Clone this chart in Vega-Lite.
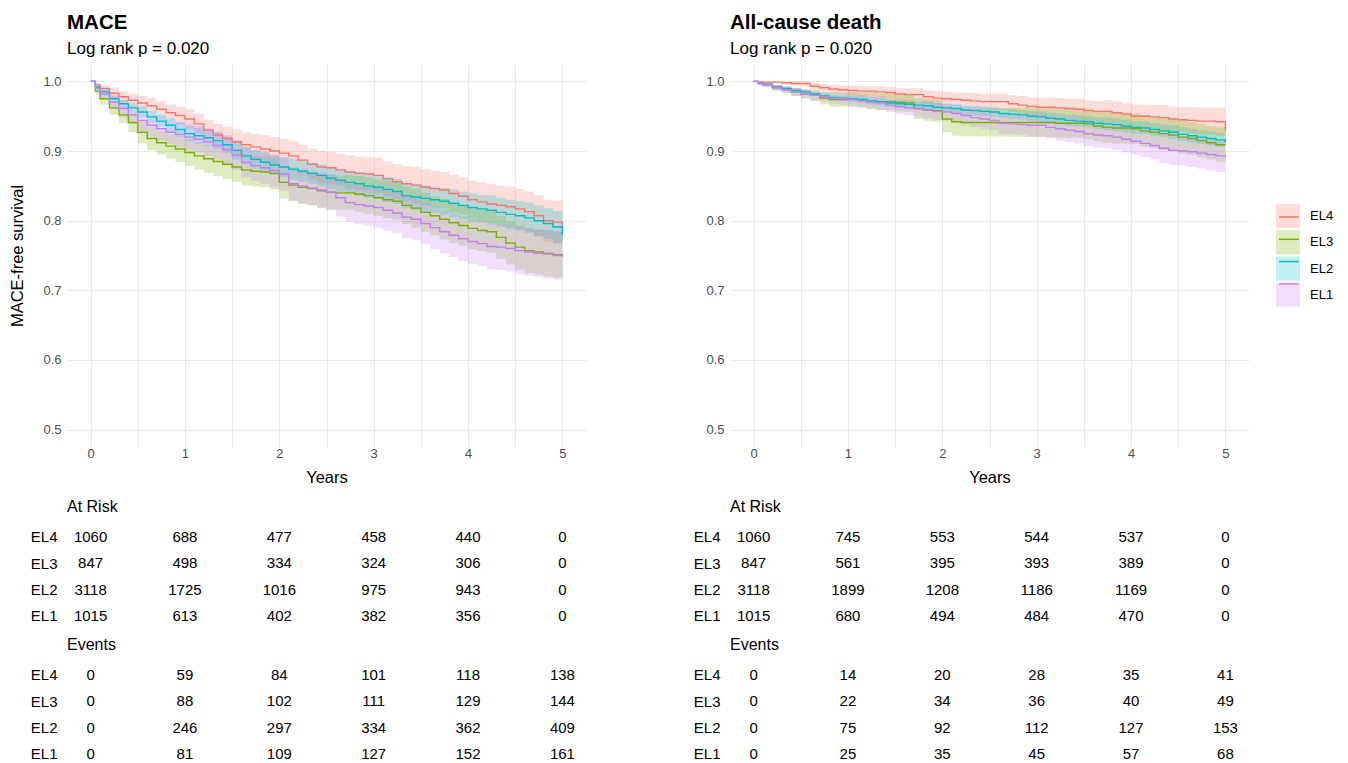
{
  "$schema": "https://vega.github.io/schema/vega-lite/v6.json",
  "padding": {"left": 9, "top": 12, "right": 0, "bottom": 0},
  "background": "white",
  "config": {
    "font": "Liberation Sans",
    "view": {"stroke": null},
    "axis": {"labelFont": "Liberation Sans", "titleFont": "Liberation Sans"},
    "title": {"font": "Liberation Sans", "subtitleFont": "Liberation Sans"}
  },
  "datasets": {
    "km": [
      {"p": "MACE", "g": "EL4",
       "t": [0,0.05,0.1,0.2,0.3,0.4,0.5,0.6,0.7,0.8,0.9,1,1.1,1.2,1.3,1.4,1.5,1.6,1.7,1.8,1.9,2,2.1,2.2,2.3,2.4,2.5,2.6,2.7,2.8,2.9,3,3.1,3.2,3.3,3.4,3.5,3.6,3.7,3.8,3.9,4,4.1,4.2,4.3,4.4,4.5,4.6,4.7,4.8,4.9,5],
       "s": [1,0.995,0.990,0.983,0.978,0.973,0.969,0.965,0.960,0.955,0.951,0.946,0.939,0.930,0.923,0.918,0.913,0.909,0.906,0.903,0.900,0.897,0.893,0.887,0.881,0.877,0.876,0.873,0.870,0.868,0.867,0.865,0.860,0.856,0.853,0.851,0.848,0.846,0.844,0.839,0.835,0.830,0.827,0.824,0.822,0.820,0.817,0.813,0.807,0.800,0.798,0.783],
       "lo": [1,0.992,0.985,0.976,0.970,0.964,0.959,0.954,0.948,0.943,0.938,0.932,0.924,0.915,0.907,0.901,0.895,0.891,0.887,0.883,0.880,0.876,0.872,0.865,0.859,0.854,0.853,0.850,0.846,0.844,0.843,0.840,0.835,0.831,0.828,0.825,0.822,0.820,0.818,0.812,0.808,0.803,0.799,0.796,0.794,0.791,0.788,0.784,0.777,0.770,0.767,0.752],
       "hi": [1,0.998,0.995,0.990,0.986,0.982,0.979,0.976,0.972,0.967,0.964,0.960,0.954,0.945,0.939,0.935,0.931,0.927,0.925,0.923,0.920,0.918,0.914,0.909,0.903,0.900,0.899,0.896,0.894,0.892,0.891,0.890,0.885,0.881,0.878,0.877,0.874,0.872,0.870,0.866,0.862,0.857,0.855,0.852,0.850,0.849,0.846,0.842,0.837,0.830,0.829,0.814]},
      {"p": "MACE", "g": "EL3",
       "t": [0,0.05,0.1,0.2,0.3,0.4,0.5,0.6,0.7,0.8,0.9,1,1.1,1.2,1.3,1.4,1.5,1.6,1.7,1.8,1.9,2,2.1,2.2,2.3,2.4,2.5,2.6,2.7,2.8,2.9,3,3.1,3.2,3.3,3.4,3.5,3.6,3.7,3.8,3.9,4,4.1,4.2,4.3,4.4,4.5,4.6,4.7,4.8,4.9,5],
       "s": [1,0.986,0.975,0.962,0.952,0.941,0.927,0.918,0.912,0.907,0.903,0.898,0.893,0.889,0.885,0.881,0.877,0.873,0.871,0.870,0.868,0.855,0.851,0.848,0.846,0.843,0.841,0.840,0.840,0.838,0.836,0.833,0.830,0.828,0.822,0.818,0.812,0.807,0.802,0.797,0.793,0.789,0.786,0.784,0.776,0.768,0.762,0.757,0.755,0.753,0.751,0.749],
       "lo": [1,0.980,0.967,0.952,0.940,0.927,0.911,0.901,0.895,0.889,0.884,0.879,0.873,0.869,0.864,0.860,0.856,0.851,0.849,0.848,0.845,0.832,0.828,0.824,0.822,0.819,0.816,0.815,0.815,0.812,0.810,0.807,0.803,0.801,0.795,0.790,0.784,0.779,0.773,0.768,0.764,0.759,0.756,0.754,0.745,0.737,0.730,0.725,0.723,0.720,0.718,0.716],
       "hi": [1,0.992,0.983,0.972,0.964,0.955,0.943,0.935,0.929,0.925,0.922,0.917,0.913,0.909,0.906,0.902,0.898,0.895,0.893,0.892,0.891,0.878,0.874,0.872,0.870,0.867,0.866,0.865,0.865,0.864,0.862,0.859,0.857,0.855,0.849,0.846,0.840,0.835,0.831,0.826,0.822,0.819,0.816,0.814,0.807,0.799,0.794,0.789,0.787,0.786,0.784,0.782]},
      {"p": "MACE", "g": "EL2",
       "t": [0,0.05,0.1,0.2,0.3,0.4,0.5,0.6,0.7,0.8,0.9,1,1.1,1.2,1.3,1.4,1.5,1.6,1.7,1.8,1.9,2,2.1,2.2,2.3,2.4,2.5,2.6,2.7,2.8,2.9,3,3.1,3.2,3.3,3.4,3.5,3.6,3.7,3.8,3.9,4,4.1,4.2,4.3,4.4,4.5,4.6,4.7,4.8,4.9,5],
       "s": [1,0.992,0.985,0.975,0.968,0.962,0.956,0.949,0.943,0.937,0.931,0.925,0.922,0.919,0.915,0.909,0.901,0.893,0.888,0.884,0.880,0.877,0.874,0.871,0.868,0.865,0.861,0.858,0.855,0.853,0.850,0.848,0.845,0.842,0.836,0.834,0.832,0.830,0.828,0.825,0.822,0.819,0.817,0.815,0.812,0.809,0.807,0.804,0.800,0.796,0.791,0.779],
       "lo": [1,0.990,0.981,0.970,0.962,0.955,0.948,0.940,0.934,0.927,0.921,0.914,0.911,0.907,0.903,0.897,0.888,0.880,0.875,0.870,0.866,0.863,0.859,0.856,0.853,0.849,0.845,0.842,0.839,0.836,0.833,0.831,0.827,0.824,0.818,0.815,0.813,0.811,0.809,0.805,0.802,0.799,0.797,0.794,0.791,0.788,0.786,0.782,0.778,0.774,0.768,0.756],
       "hi": [1,0.994,0.989,0.980,0.974,0.969,0.964,0.958,0.952,0.947,0.941,0.936,0.933,0.931,0.927,0.921,0.914,0.906,0.901,0.898,0.894,0.891,0.889,0.886,0.883,0.881,0.877,0.874,0.871,0.870,0.867,0.865,0.863,0.860,0.854,0.853,0.851,0.849,0.847,0.845,0.842,0.839,0.837,0.836,0.833,0.830,0.828,0.826,0.822,0.818,0.814,0.802]},
      {"p": "MACE", "g": "EL1",
       "t": [0,0.05,0.1,0.2,0.3,0.4,0.5,0.6,0.7,0.8,0.9,1,1.1,1.2,1.3,1.4,1.5,1.6,1.7,1.8,1.9,2,2.1,2.2,2.3,2.4,2.5,2.6,2.7,2.8,2.9,3,3.1,3.2,3.3,3.4,3.5,3.6,3.7,3.8,3.9,4,4.1,4.2,4.3,4.4,4.5,4.6,4.7,4.8,4.9,5],
       "s": [1,0.990,0.982,0.970,0.961,0.952,0.944,0.937,0.932,0.927,0.924,0.920,0.917,0.913,0.908,0.902,0.894,0.884,0.879,0.876,0.872,0.867,0.853,0.850,0.847,0.844,0.841,0.833,0.826,0.823,0.821,0.819,0.815,0.811,0.805,0.802,0.796,0.790,0.784,0.779,0.774,0.770,0.767,0.763,0.762,0.760,0.757,0.755,0.753,0.752,0.750,0.748],
       "lo": [1,0.986,0.975,0.960,0.949,0.939,0.929,0.921,0.915,0.910,0.906,0.901,0.898,0.893,0.888,0.881,0.873,0.862,0.857,0.853,0.849,0.843,0.829,0.825,0.822,0.818,0.815,0.806,0.799,0.795,0.793,0.790,0.786,0.782,0.775,0.772,0.766,0.759,0.753,0.748,0.742,0.738,0.735,0.730,0.729,0.727,0.723,0.721,0.719,0.717,0.715,0.713],
       "hi": [1,0.994,0.989,0.980,0.973,0.965,0.959,0.953,0.949,0.944,0.942,0.939,0.936,0.933,0.928,0.923,0.915,0.906,0.901,0.899,0.895,0.891,0.877,0.875,0.872,0.870,0.867,0.860,0.853,0.851,0.849,0.848,0.844,0.840,0.835,0.832,0.826,0.821,0.815,0.810,0.806,0.802,0.799,0.796,0.795,0.793,0.791,0.789,0.787,0.787,0.785,0.783]},
      {"p": "Death", "g": "EL4",
       "t": [0,0.05,0.1,0.2,0.3,0.4,0.5,0.6,0.7,0.8,0.9,1,1.1,1.2,1.3,1.4,1.5,1.6,1.7,1.8,1.9,2,2.1,2.2,2.3,2.4,2.5,2.6,2.7,2.8,2.9,3,3.1,3.2,3.3,3.4,3.5,3.6,3.7,3.8,3.9,4,4.1,4.2,4.3,4.4,4.5,4.6,4.7,4.8,4.9,5],
       "s": [1,0.999,0.999,0.999,0.998,0.997,0.997,0.993,0.991,0.989,0.988,0.987,0.986,0.986,0.985,0.984,0.982,0.981,0.981,0.978,0.976,0.975,0.974,0.973,0.972,0.971,0.971,0.971,0.968,0.966,0.964,0.963,0.963,0.962,0.961,0.960,0.958,0.957,0.957,0.955,0.953,0.950,0.950,0.949,0.948,0.946,0.945,0.944,0.943,0.943,0.942,0.928],
       "lo": [1,0.999,0.998,0.997,0.995,0.994,0.993,0.988,0.986,0.983,0.982,0.980,0.979,0.979,0.977,0.976,0.974,0.972,0.972,0.969,0.966,0.965,0.964,0.962,0.961,0.960,0.959,0.959,0.956,0.953,0.951,0.950,0.949,0.948,0.947,0.945,0.943,0.942,0.941,0.939,0.937,0.933,0.933,0.932,0.930,0.928,0.927,0.925,0.924,0.924,0.922,0.908],
       "hi": [1,1,1,1,1,1,1,0.998,0.996,0.995,0.994,0.994,0.993,0.993,0.993,0.992,0.990,0.990,0.990,0.987,0.986,0.985,0.984,0.984,0.983,0.982,0.983,0.983,0.980,0.979,0.977,0.976,0.977,0.976,0.975,0.975,0.973,0.972,0.973,0.971,0.969,0.967,0.967,0.966,0.966,0.964,0.963,0.963,0.962,0.962,0.962,0.948]},
      {"p": "Death", "g": "EL3",
       "t": [0,0.05,0.1,0.2,0.3,0.4,0.5,0.6,0.7,0.8,0.9,1,1.1,1.2,1.3,1.4,1.5,1.6,1.7,1.8,1.9,2,2.1,2.2,2.3,2.4,2.5,2.6,2.7,2.8,2.9,3,3.1,3.2,3.3,3.4,3.5,3.6,3.7,3.8,3.9,4,4.1,4.2,4.3,4.4,4.5,4.6,4.7,4.8,4.9,5],
       "s": [1,0.997,0.995,0.991,0.988,0.985,0.982,0.980,0.976,0.974,0.974,0.974,0.973,0.972,0.971,0.971,0.970,0.969,0.961,0.959,0.958,0.946,0.942,0.941,0.941,0.941,0.941,0.941,0.941,0.941,0.941,0.941,0.941,0.940,0.940,0.940,0.939,0.936,0.934,0.933,0.933,0.932,0.929,0.927,0.925,0.923,0.920,0.918,0.915,0.912,0.909,0.909],
       "lo": [1,0.995,0.992,0.987,0.983,0.979,0.975,0.972,0.967,0.964,0.964,0.963,0.962,0.960,0.959,0.959,0.957,0.956,0.946,0.943,0.942,0.927,0.922,0.921,0.921,0.921,0.921,0.921,0.920,0.920,0.920,0.920,0.920,0.919,0.919,0.919,0.917,0.914,0.912,0.911,0.911,0.910,0.906,0.904,0.902,0.900,0.896,0.894,0.891,0.888,0.884,0.884],
       "hi": [1,0.999,0.998,0.995,0.993,0.991,0.989,0.988,0.985,0.984,0.984,0.985,0.984,0.984,0.983,0.983,0.983,0.982,0.976,0.975,0.974,0.965,0.962,0.961,0.961,0.961,0.961,0.961,0.962,0.962,0.962,0.962,0.962,0.961,0.961,0.961,0.961,0.958,0.956,0.955,0.955,0.954,0.952,0.950,0.948,0.946,0.944,0.942,0.939,0.936,0.934,0.934]},
      {"p": "Death", "g": "EL2",
       "t": [0,0.05,0.1,0.2,0.3,0.4,0.5,0.6,0.7,0.8,0.9,1,1.1,1.2,1.3,1.4,1.5,1.6,1.7,1.8,1.9,2,2.1,2.2,2.3,2.4,2.5,2.6,2.7,2.8,2.9,3,3.1,3.2,3.3,3.4,3.5,3.6,3.7,3.8,3.9,4,4.1,4.2,4.3,4.4,4.5,4.6,4.7,4.8,4.9,5],
       "s": [1,0.998,0.996,0.992,0.990,0.987,0.985,0.982,0.979,0.977,0.976,0.975,0.974,0.972,0.971,0.969,0.968,0.967,0.966,0.965,0.963,0.962,0.961,0.959,0.958,0.957,0.956,0.954,0.953,0.952,0.950,0.949,0.947,0.946,0.944,0.943,0.942,0.940,0.939,0.938,0.936,0.934,0.933,0.931,0.929,0.927,0.924,0.922,0.920,0.918,0.916,0.912],
       "lo": [1,0.997,0.995,0.990,0.988,0.984,0.982,0.979,0.975,0.973,0.972,0.971,0.969,0.967,0.966,0.964,0.963,0.961,0.960,0.959,0.957,0.956,0.955,0.953,0.951,0.950,0.949,0.947,0.946,0.945,0.943,0.941,0.939,0.938,0.936,0.935,0.934,0.932,0.930,0.929,0.927,0.925,0.924,0.922,0.920,0.917,0.914,0.912,0.910,0.908,0.906,0.902],
       "hi": [1,0.999,0.997,0.994,0.992,0.990,0.988,0.985,0.983,0.981,0.980,0.979,0.979,0.977,0.976,0.974,0.973,0.973,0.972,0.971,0.969,0.968,0.967,0.965,0.965,0.964,0.963,0.961,0.960,0.959,0.957,0.957,0.955,0.954,0.952,0.951,0.950,0.948,0.948,0.947,0.945,0.943,0.942,0.940,0.938,0.937,0.934,0.932,0.930,0.928,0.926,0.922]},
      {"p": "Death", "g": "EL1",
       "t": [0,0.05,0.1,0.2,0.3,0.4,0.5,0.6,0.7,0.8,0.9,1,1.1,1.2,1.3,1.4,1.5,1.6,1.7,1.8,1.9,2,2.1,2.2,2.3,2.4,2.5,2.6,2.7,2.8,2.9,3,3.1,3.2,3.3,3.4,3.5,3.6,3.7,3.8,3.9,4,4.1,4.2,4.3,4.4,4.5,4.6,4.7,4.8,4.9,5],
       "s": [1,0.997,0.995,0.991,0.988,0.985,0.982,0.980,0.978,0.976,0.975,0.974,0.972,0.970,0.969,0.966,0.964,0.962,0.961,0.959,0.957,0.956,0.954,0.951,0.948,0.946,0.944,0.940,0.939,0.938,0.937,0.937,0.934,0.932,0.930,0.928,0.925,0.923,0.922,0.920,0.917,0.914,0.911,0.908,0.904,0.901,0.900,0.899,0.897,0.895,0.893,0.891],
       "lo": [1,0.995,0.992,0.987,0.983,0.979,0.976,0.973,0.971,0.968,0.967,0.965,0.963,0.961,0.959,0.956,0.953,0.951,0.950,0.947,0.945,0.944,0.941,0.938,0.934,0.932,0.930,0.925,0.924,0.923,0.921,0.921,0.918,0.915,0.913,0.911,0.907,0.905,0.904,0.901,0.898,0.895,0.891,0.888,0.883,0.880,0.879,0.877,0.875,0.872,0.870,0.867],
       "hi": [1,0.999,0.998,0.995,0.993,0.991,0.988,0.987,0.985,0.984,0.983,0.983,0.981,0.979,0.979,0.976,0.975,0.973,0.972,0.971,0.969,0.968,0.967,0.964,0.962,0.960,0.958,0.955,0.954,0.953,0.953,0.953,0.950,0.949,0.947,0.945,0.943,0.941,0.940,0.939,0.936,0.933,0.931,0.928,0.925,0.922,0.921,0.921,0.919,0.918,0.916,0.915]}
    ],
    "tab": [
      {"p": "MACE", "k": "risk", "g": "EL4", "t": [0,1,2,3,4,5], "n": [1060,688,477,458,440,0]},
      {"p": "MACE", "k": "risk", "g": "EL3", "t": [0,1,2,3,4,5], "n": [847,498,334,324,306,0]},
      {"p": "MACE", "k": "risk", "g": "EL2", "t": [0,1,2,3,4,5], "n": [3118,1725,1016,975,943,0]},
      {"p": "MACE", "k": "risk", "g": "EL1", "t": [0,1,2,3,4,5], "n": [1015,613,402,382,356,0]},
      {"p": "MACE", "k": "ev", "g": "EL4", "t": [0,1,2,3,4,5], "n": [0,59,84,101,118,138]},
      {"p": "MACE", "k": "ev", "g": "EL3", "t": [0,1,2,3,4,5], "n": [0,88,102,111,129,144]},
      {"p": "MACE", "k": "ev", "g": "EL2", "t": [0,1,2,3,4,5], "n": [0,246,297,334,362,409]},
      {"p": "MACE", "k": "ev", "g": "EL1", "t": [0,1,2,3,4,5], "n": [0,81,109,127,152,161]},
      {"p": "Death", "k": "risk", "g": "EL4", "t": [0,1,2,3,4,5], "n": [1060,745,553,544,537,0]},
      {"p": "Death", "k": "risk", "g": "EL3", "t": [0,1,2,3,4,5], "n": [847,561,395,393,389,0]},
      {"p": "Death", "k": "risk", "g": "EL2", "t": [0,1,2,3,4,5], "n": [3118,1899,1208,1186,1169,0]},
      {"p": "Death", "k": "risk", "g": "EL1", "t": [0,1,2,3,4,5], "n": [1015,680,494,484,470,0]},
      {"p": "Death", "k": "ev", "g": "EL4", "t": [0,1,2,3,4,5], "n": [0,14,20,28,35,41]},
      {"p": "Death", "k": "ev", "g": "EL3", "t": [0,1,2,3,4,5], "n": [0,22,34,36,40,49]},
      {"p": "Death", "k": "ev", "g": "EL2", "t": [0,1,2,3,4,5], "n": [0,75,92,112,127,153]},
      {"p": "Death", "k": "ev", "g": "EL1", "t": [0,1,2,3,4,5], "n": [0,25,35,45,57,68]}
    ]
  },
  "hconcat": [
    {
      "spacing": 13,
      "vconcat": [
        {
          "width": 519, "height": 383,
          "title": {"text": "MACE", "subtitle": "Log rank p = 0.020", "anchor": "start", "frame": "group", "fontSize": 20.5, "fontWeight": "bold", "color": "black", "subtitleFontSize": 17, "subtitleColor": "black", "subtitlePadding": 8, "offset": 7},
          "data": {"name": "km"},
          "transform": [{"filter": "datum.p == 'MACE'"}, {"flatten": ["t", "s", "lo", "hi"]}],
          "encoding": {
            "x": {"field": "t", "type": "quantitative", "scale": {"domain": [-0.25, 5.25], "nice": false, "zero": false},
                  "axis": {"title": "Years", "values": [0,0.5,1,1.5,2,2.5,3,3.5,4,4.5,5], "labelExpr": "datum.value % 1 == 0 ? format(datum.value, 'd') : ''", "grid": true, "gridColor": "#EBEBEB", "domain": false, "ticks": false, "labelPadding": 0, "labelColor": "#4D4D4D", "labelFontSize": 13, "titleFontSize": 16.5, "titleFontWeight": "normal", "titleColor": "black", "titlePadding": 9, "labelFlush": false}}
          },
          "layer": [
            {
              "mark": {"type": "area", "interpolate": "step-after", "fillOpacity": 0.25},
              "encoding": {
                "y": {"field": "lo", "type": "quantitative", "scale": {"domain": [0.475, 1.025], "nice": false, "zero": false},
                      "axis": {"title": "MACE-free survival", "values": [0.5,0.55,0.6,0.65,0.7,0.75,0.8,0.85,0.9,0.95,1.0], "labelExpr": "abs(datum.value*10 - round(datum.value*10)) < 0.001 ? format(datum.value, '.1f') : ''", "grid": true, "gridColor": "#EBEBEB", "domain": false, "ticks": false, "labelPadding": 6, "labelColor": "#4D4D4D", "labelFontSize": 13, "titleFontSize": 16.5, "titleFontWeight": "normal", "titleColor": "black", "titlePadding": 17}},
                "y2": {"field": "hi"},
                "fill": {"field": "g", "type": "nominal", "scale": {"domain": ["EL4", "EL3", "EL2", "EL1"], "range": ["#F8766D", "#7CAE00", "#00BFC4", "#C77CFF"]},
                         "legend": {"orient": "none", "legendX": 1209, "legendY": 140, "title": null, "padding": 0, "symbolType": "square", "symbolSize": 576, "symbolOpacity": 0.25, "symbolStrokeWidth": 0, "labelFontSize": 13, "labelColor": "black", "labelOffset": 10, "rowPadding": 2.3}}
              }
            },
            {
              "mark": {"type": "line", "interpolate": "step-after", "strokeWidth": 1.4},
              "encoding": {
                "y": {"field": "s", "type": "quantitative"},
                "stroke": {"field": "g", "type": "nominal", "sort": ["EL4", "EL3", "EL2", "EL1"], "scale": {"range": ["#F8766D", "#7CAE00", "#00BFC4", "#C77CFF"]},
                           "legend": {"orient": "none", "legendX": 1209, "legendY": 140, "title": null, "padding": 0, "symbolType": "M-0.83,0L0.83,0", "symbolSize": 576, "symbolStrokeWidth": 1.5, "labelFontSize": 13, "labelExpr": "''", "labelOffset": 10, "rowPadding": 2.3}}
              }
            }
          ]
        },
        {
          "width": 519, "height": 94.7,
          "title": {"text": "At Risk", "anchor": "start", "frame": "group", "fontSize": 16, "fontWeight": "normal", "color": "black", "offset": 14},
          "data": {"name": "tab"},
          "transform": [{"filter": "datum.p == 'MACE' && datum.k == 'risk'"}, {"flatten": ["t", "n"]}],
          "mark": {"type": "text", "fontSize": 15, "color": "black"},
          "encoding": {
            "x": {"field": "t", "type": "quantitative", "scale": {"domain": [-0.25, 5.25], "nice": false, "zero": false}, "axis": null},
            "y": {"field": "g", "type": "nominal", "sort": ["EL4", "EL3", "EL2", "EL1"], "scale": {"type": "point", "padding": 0.3}, "axis": {"title": null, "domain": false, "ticks": false, "grid": false, "labelPadding": 10, "labelFontSize": 15, "labelColor": "black"}},
            "text": {"field": "n", "type": "nominal"}
          }
        },
        {
          "width": 519, "height": 94.7,
          "title": {"text": "Events", "anchor": "start", "frame": "group", "fontSize": 16, "fontWeight": "normal", "color": "black", "offset": 14},
          "data": {"name": "tab"},
          "transform": [{"filter": "datum.p == 'MACE' && datum.k == 'ev'"}, {"flatten": ["t", "n"]}],
          "mark": {"type": "text", "fontSize": 15, "color": "black"},
          "encoding": {
            "x": {"field": "t", "type": "quantitative", "scale": {"domain": [-0.25, 5.25], "nice": false, "zero": false}, "axis": null},
            "y": {"field": "g", "type": "nominal", "sort": ["EL4", "EL3", "EL2", "EL1"], "scale": {"type": "point", "padding": 0.3}, "axis": {"title": null, "domain": false, "ticks": false, "grid": false, "labelPadding": 10, "labelFontSize": 15, "labelColor": "black"}},
            "text": {"field": "n", "type": "nominal"}
          }
        }
      ]
    },
    {
      "spacing": 13,
      "vconcat": [
        {
          "width": 519, "height": 383,
          "title": {"text": "All-cause death", "subtitle": "Log rank p = 0.020", "anchor": "start", "frame": "group", "fontSize": 20.5, "fontWeight": "bold", "color": "black", "subtitleFontSize": 17, "subtitleColor": "black", "subtitlePadding": 8, "offset": 7},
          "data": {"name": "km"},
          "transform": [{"filter": "datum.p == 'Death'"}, {"flatten": ["t", "s", "lo", "hi"]}],
          "encoding": {
            "x": {"field": "t", "type": "quantitative", "scale": {"domain": [-0.25, 5.25], "nice": false, "zero": false},
                  "axis": {"title": "Years", "values": [0,0.5,1,1.5,2,2.5,3,3.5,4,4.5,5], "labelExpr": "datum.value % 1 == 0 ? format(datum.value, 'd') : ''", "grid": true, "gridColor": "#EBEBEB", "domain": false, "ticks": false, "labelPadding": 0, "labelColor": "#4D4D4D", "labelFontSize": 13, "titleFontSize": 16.5, "titleFontWeight": "normal", "titleColor": "black", "titlePadding": 9, "labelFlush": false}}
          },
          "layer": [
            {
              "mark": {"type": "area", "interpolate": "step-after", "fillOpacity": 0.25},
              "encoding": {
                "y": {"field": "lo", "type": "quantitative", "scale": {"domain": [0.475, 1.025], "nice": false, "zero": false},
                      "axis": {"title": null, "values": [0.5,0.55,0.6,0.65,0.7,0.75,0.8,0.85,0.9,0.95,1.0], "labelExpr": "abs(datum.value*10 - round(datum.value*10)) < 0.001 ? format(datum.value, '.1f') : ''", "grid": true, "gridColor": "#EBEBEB", "domain": false, "ticks": false, "labelPadding": 6, "labelColor": "#4D4D4D", "labelFontSize": 13}},
                "y2": {"field": "hi"},
                "fill": {"field": "g", "type": "nominal", "scale": {"domain": ["EL4", "EL3", "EL2", "EL1"], "range": ["#F8766D", "#7CAE00", "#00BFC4", "#C77CFF"]},
                         "legend": {"orient": "none", "legendX": 1209, "legendY": 140, "title": null, "padding": 0, "symbolType": "square", "symbolSize": 576, "symbolOpacity": 0.25, "symbolStrokeWidth": 0, "labelFontSize": 13, "labelColor": "black", "labelOffset": 10, "rowPadding": 2.3}}
              }
            },
            {
              "mark": {"type": "line", "interpolate": "step-after", "strokeWidth": 1.4},
              "encoding": {
                "y": {"field": "s", "type": "quantitative"},
                "stroke": {"field": "g", "type": "nominal", "sort": ["EL4", "EL3", "EL2", "EL1"], "scale": {"range": ["#F8766D", "#7CAE00", "#00BFC4", "#C77CFF"]},
                           "legend": {"orient": "none", "legendX": 1209, "legendY": 140, "title": null, "padding": 0, "symbolType": "M-0.83,0L0.83,0", "symbolSize": 576, "symbolStrokeWidth": 1.5, "labelFontSize": 13, "labelExpr": "''", "labelOffset": 10, "rowPadding": 2.3}}
              }
            }
          ]
        },
        {
          "width": 519, "height": 94.7,
          "title": {"text": "At Risk", "anchor": "start", "frame": "group", "fontSize": 16, "fontWeight": "normal", "color": "black", "offset": 14},
          "data": {"name": "tab"},
          "transform": [{"filter": "datum.p == 'Death' && datum.k == 'risk'"}, {"flatten": ["t", "n"]}],
          "mark": {"type": "text", "fontSize": 15, "color": "black"},
          "encoding": {
            "x": {"field": "t", "type": "quantitative", "scale": {"domain": [-0.25, 5.25], "nice": false, "zero": false}, "axis": null},
            "y": {"field": "g", "type": "nominal", "sort": ["EL4", "EL3", "EL2", "EL1"], "scale": {"type": "point", "padding": 0.3}, "axis": {"title": null, "domain": false, "ticks": false, "grid": false, "labelPadding": 10, "labelFontSize": 15, "labelColor": "black"}},
            "text": {"field": "n", "type": "nominal"}
          }
        },
        {
          "width": 519, "height": 94.7,
          "title": {"text": "Events", "anchor": "start", "frame": "group", "fontSize": 16, "fontWeight": "normal", "color": "black", "offset": 14},
          "data": {"name": "tab"},
          "transform": [{"filter": "datum.p == 'Death' && datum.k == 'ev'"}, {"flatten": ["t", "n"]}],
          "mark": {"type": "text", "fontSize": 15, "color": "black"},
          "encoding": {
            "x": {"field": "t", "type": "quantitative", "scale": {"domain": [-0.25, 5.25], "nice": false, "zero": false}, "axis": null},
            "y": {"field": "g", "type": "nominal", "sort": ["EL4", "EL3", "EL2", "EL1"], "scale": {"type": "point", "padding": 0.3}, "axis": {"title": null, "domain": false, "ticks": false, "grid": false, "labelPadding": 10, "labelFontSize": 15, "labelColor": "black"}},
            "text": {"field": "n", "type": "nominal"}
          }
        }
      ]
    }
  ],
  "spacing": 107
}
